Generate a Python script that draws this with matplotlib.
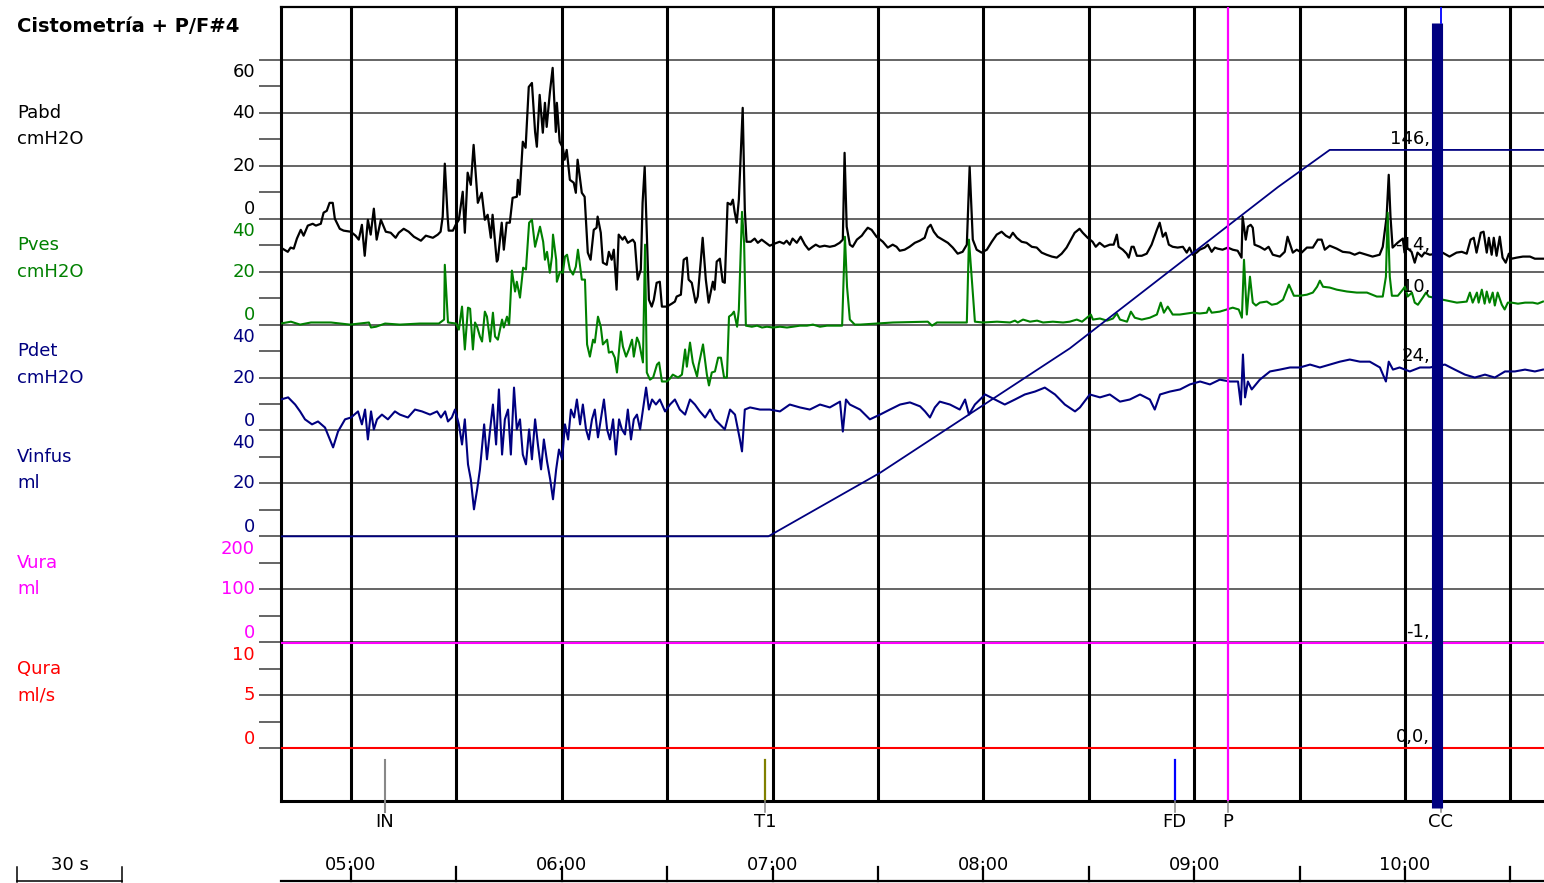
import numpy as np
import matplotlib.pyplot as plt
from matplotlib.transforms import Affine2D, blended_transform_factory, offset_copy

plt.rcParams['font.family'] = ['DejaVu Sans']

# ---- data (time in s, values in channel units) ----
pabd_t = [280.0, 282.0, 282.8, 283.7, 284.6, 285.7, 286.5, 287.7, 289.1, 290.0, 291.4, 292.2,
          293.1, 293.9, 294.8, 295.4, 296.8, 297.9, 299.9, 301.3, 302.2, 303.1, 303.9, 304.8,
          305.6, 306.5, 307.3, 308.5, 309.9, 311.3, 312.7, 313.6, 315.0, 316.4, 317.9, 319.9,
          321.3, 323.3, 324.7, 325.5, 326.1, 326.7, 327.5, 327.8, 329.0, 329.8, 330.7, 331.8,
          332.4, 333.2, 334.1, 334.9, 336.1, 337.2, 338.1, 338.9, 339.8, 340.3, 341.5, 341.8,
          342.9, 343.5, 344.3, 345.2, 346.0, 347.2, 347.5, 348.0, 348.9, 349.7, 350.6, 351.5,
          352.4, 352.9, 353.7, 354.6, 355.2, 355.7, 356.6, 357.4, 358.3, 358.6, 359.4, 360.3,
          360.8, 361.4, 362.3, 363.4, 364.0, 364.5, 365.7, 366.5, 367.4, 368.2, 369.1, 369.9,
          370.2, 371.1, 371.7, 372.8, 373.4, 374.2, 374.8, 375.6, 376.2, 377.3, 377.9, 378.8,
          380.2, 380.8, 381.6, 382.5, 383.0, 383.6, 384.2, 384.8, 385.6, 386.2, 387.0, 387.9,
          388.5, 389.9, 391.3, 392.2, 392.7, 393.9, 394.7, 395.6, 396.1, 397.0, 398.1, 398.7,
          399.6, 400.1, 401.0, 401.8, 403.0, 403.5, 404.1, 405.0, 405.8, 406.4, 407.2, 408.1,
          408.7, 409.2, 409.8, 410.4, 411.5, 412.1, 412.6, 413.8, 414.9, 415.8, 416.9, 418.1,
          419.2, 420.6, 422.0, 423.2, 424.0, 424.9, 425.7, 426.9, 428.0, 429.2, 430.3, 431.4,
          432.3, 433.4, 434.8, 436.3, 437.7, 439.1, 440.0, 440.5, 441.1, 442.0, 442.8, 444.0,
          445.4, 446.2, 447.1, 448.2, 449.6, 451.4, 452.8, 454.2, 455.3, 456.2, 457.6, 459.0,
          460.5, 461.9, 463.3, 464.2, 465.0, 465.9, 467.0, 468.4, 469.9, 471.3, 472.7, 474.1,
          475.3, 476.1, 477.0, 478.1, 479.5, 481.0, 482.4, 483.8, 485.2, 486.4, 487.5, 488.4,
          489.5, 490.9, 492.3, 493.8, 495.2, 496.6, 498.0, 499.5, 500.9, 502.3, 503.7, 504.6,
          506.0, 507.4, 508.3, 509.7, 511.1, 512.0, 513.1, 514.5, 516.0, 517.1, 518.0, 518.5,
          519.7, 520.8, 521.4, 522.2, 522.8, 523.7, 525.1, 526.5, 527.9, 529.4, 530.2, 531.1,
          531.9, 532.8, 533.9, 535.3, 536.8, 537.9, 538.7, 539.6, 540.7, 541.6, 543.0, 543.9,
          545.0, 545.9, 546.7, 548.1, 549.6, 551.0, 552.4, 553.5, 553.8, 554.7, 555.3, 556.1,
          556.7, 557.2, 558.7, 560.1, 561.2, 562.4, 564.4, 565.8, 566.6, 568.1, 569.2, 570.6,
          572.1, 573.8, 575.2, 576.3, 577.2, 578.6, 580.6, 582.3, 584.3, 585.7, 587.1, 589.1,
          590.8, 592.8, 593.7, 594.8, 595.4, 595.9, 596.5, 597.9, 599.4, 599.9, 600.5, 601.9,
          602.8, 603.6, 604.8, 605.6, 607.1, 610.7, 612.7, 614.7, 616.2, 617.6, 618.7, 619.6,
          620.4, 621.6, 622.4, 623.3, 623.9, 624.7, 625.3, 626.1, 627.0, 627.8, 628.7, 629.6,
          630.4, 631.8, 633.6, 635.6, 637.0, 639.3]
pabd_v = [-10.9, -12.5, -10.9, -11.3, -7.5, -4.2, -6.4, -2.6, -1.9, -2.6, -1.9, 2.3,
          3.0, 6.0, 6.0, 0.0, -3.8, -4.5, -4.9, -6.4, -7.9, -2.3, -14.0, -0.4,
          -6.0, 3.8, -7.9, -0.4, -4.9, -5.3, -7.2, -5.3, -3.8, -4.9, -6.8, -8.3,
          -6.4, -7.2, -6.0, -4.9, 0.8, 20.8, 0.8, -4.5, -4.5, -2.3, -0.4, 10.2,
          -5.3, 17.4, 12.8, 27.9, 6.0, 9.8, -0.4, 1.5, -7.2, 1.5, -16.2, -15.5,
          -1.5, -11.7, -1.5, -1.5, 7.9, 8.3, 14.7, 9.1, 29.1, 26.8, 49.8, 51.3,
          32.8, 27.2, 46.8, 32.5, 43.8, 34.7, 47.6, 57.0, 32.8, 43.8, 29.1, 26.8,
          22.3, 26.0, 14.7, 13.6, 9.8, 22.3, 9.8, 8.3, -12.8, -15.5, -4.2, -3.4,
          0.8, -5.3, -16.6, -17.4, -12.5, -15.5, -11.7, -26.8, -6.0, -7.9, -6.8, -9.1,
          -7.9, -9.1, -23.0, -19.2, 6.0, 19.6, -5.3, -30.6, -33.2, -30.6, -24.2, -23.8,
          -33.2, -33.2, -32.1, -31.3, -29.4, -28.7, -15.5, -14.7, -23.0, -24.2, -31.7, -29.4,
          -15.5, -7.2, -23.0, -31.7, -23.8, -26.8, -16.2, -15.1, -23.8, -24.2, 6.0, 5.3,
          7.2, 2.6, -1.5, 7.2, 41.9, 3.4, -8.7, -8.7, -7.5, -9.1, -7.9, -9.1,
          -10.2, -9.4, -8.7, -9.4, -8.3, -9.8, -7.5, -9.1, -6.8, -9.8, -11.7, -10.6,
          -9.8, -10.6, -10.2, -10.6, -10.2, -9.1, -7.9, 24.9, -3.0, -9.8, -10.6, -7.9,
          -6.4, -4.9, -3.4, -4.2, -6.8, -8.7, -10.9, -9.8, -10.6, -12.1, -11.7, -10.6,
          -9.1, -8.3, -7.2, -3.4, -2.3, -4.9, -6.8, -7.9, -9.1, -10.9, -13.2, -12.5,
          -9.8, 19.6, -7.9, -11.7, -12.8, -11.7, -8.7, -6.0, -4.9, -6.4, -7.2, -5.3,
          -7.2, -8.7, -9.1, -10.6, -10.9, -12.8, -13.6, -14.3, -14.7, -13.2, -10.9, -8.7,
          -5.3, -3.8, -5.3, -7.2, -8.7, -10.6, -9.1, -10.6, -9.8, -9.8, -6.0, -10.6,
          -11.7, -13.2, -14.7, -10.6, -10.6, -14.0, -14.0, -13.2, -9.8, -4.2, -1.5, -6.8,
          -5.3, -9.8, -10.6, -10.9, -10.6, -12.8, -10.9, -13.6, -12.8, -11.7, -10.9, -9.8,
          -12.5, -10.9, -11.3, -11.7, -10.9, -11.7, -12.1, -14.7, 0.8, -7.9, -3.0, -2.3,
          -3.4, -9.8, -10.6, -11.7, -10.6, -13.6, -14.3, -12.5, -6.8, -12.8, -11.7, -12.8,
          -10.9, -10.9, -7.9, -7.9, -11.7, -10.2, -11.3, -12.5, -12.8, -13.6, -12.8, -13.6,
          -14.3, -13.6, -10.6, 0.8, 16.6, 0.8, -10.9, -9.1, -7.5, -12.8, -10.9, -12.5,
          -16.6, -12.8, -14.3, -12.8, -13.6, -12.8, -14.3, -12.8, -12.5, -13.2, -7.9, -7.2,
          -12.8, -5.3, -4.9, -12.8, -7.2, -13.6, -7.2, -14.0, -6.8, -14.7, -16.6, -13.2,
          -15.1, -14.7, -14.3, -14.3, -15.1, -15.1]

pves_t = [280.0, 282.9, 285.5, 288.6, 294.3, 299.7, 305.1, 305.7, 307.1, 309.7, 313.9, 319.6,
          325.0, 326.5, 326.7, 327.6, 329.9, 330.7, 331.6, 332.4, 333.3, 333.9, 334.7, 335.3,
          335.9, 336.7, 337.3, 338.1, 338.7, 339.6, 340.4, 341.0, 341.8, 343.0, 343.5, 344.4,
          345.0, 345.2, 345.8, 346.7, 347.2, 348.1, 349.0, 349.8, 350.7, 351.5, 352.4, 352.9,
          353.8, 354.7, 355.2, 355.8, 356.6, 357.2, 357.5, 358.4, 358.6, 359.5, 360.3, 360.9,
          361.5, 362.3, 363.2, 364.0, 364.6, 365.7, 366.6, 367.2, 368.0, 368.9, 369.4, 370.3,
          371.1, 371.7, 372.9, 373.4, 374.3, 375.1, 375.7, 376.8, 377.4, 378.3, 379.1, 380.0,
          380.5, 381.4, 382.0, 383.1, 383.7, 384.2, 385.1, 386.0, 387.1, 387.7, 388.5, 389.9,
          390.8, 391.6, 393.1, 394.2, 395.1, 395.6, 396.5, 397.3, 398.5, 399.0, 400.2, 401.3,
          401.9, 402.7, 403.6, 404.5, 405.3, 406.2, 407.0, 407.6, 408.4, 409.0, 409.9, 410.4,
          411.3, 411.9, 412.4, 414.1, 415.6, 417.0, 418.4, 420.1, 422.1, 424.1, 425.8, 427.8,
          429.8, 431.5, 433.5, 435.5, 437.2, 439.8, 440.6, 441.2, 442.0, 443.4, 444.9, 454.3,
          464.2, 465.4, 466.8, 475.3, 475.9, 477.6, 479.9, 483.9, 487.6, 489.0, 489.8, 491.3,
          493.3, 495.3, 497.0, 499.8, 502.7, 504.6, 506.6, 508.1, 510.6, 511.2, 513.2, 515.2,
          516.9, 518.0, 518.9, 520.9, 522.0, 523.1, 525.1, 527.4, 529.4, 530.5, 531.4, 532.5,
          533.9, 535.9, 537.9, 539.6, 541.6, 543.6, 544.2, 545.0, 547.3, 549.3, 551.0, 552.7,
          553.6, 554.2, 555.0, 555.9, 556.7, 557.6, 558.7, 560.7, 562.1, 563.6, 565.3, 567.0,
          568.4, 570.1, 572.1, 573.8, 575.0, 575.8, 576.7, 578.6, 580.6, 583.5, 586.3, 589.2,
          592.0, 593.7, 594.6, 595.1, 595.7, 596.3, 598.0, 599.4, 600.0, 600.8, 602.0, 602.8,
          603.7, 605.1, 606.0, 606.8, 610.8, 614.8, 617.6, 618.5, 619.3, 620.5, 621.0, 621.9,
          622.7, 623.3, 624.1, 625.0, 625.6, 626.4, 627.6, 628.4, 629.3, 630.4, 632.2, 634.2,
          636.4, 637.8, 639.3]
pves_v = [0.4, 1.1, 0.0, 0.8, 0.8, 0.0, 0.8, -1.1, -0.8, 0.4, 0.0, 0.4,
          0.4, 1.9, 22.6, 0.8, 0.4, -1.9, 6.8, -9.4, 6.4, 6.0, -9.4, 0.8,
          -0.8, -4.5, -6.4, 4.9, 3.0, -6.4, 4.5, -4.5, -5.7, 1.9, -1.1, 3.0,
          0.0, 4.5, 20.4, 12.5, 16.2, 10.2, 21.5, 20.8, 38.5, 39.6, 29.4, 32.1,
          37.0, 31.3, 24.5, 27.5, 19.6, 25.7, 34.0, 24.5, 16.2, 20.0, 19.6, 25.7,
          26.4, 20.8, 18.9, 21.9, 28.3, 17.0, 17.0, -7.5, -12.1, -5.7, -6.8, 3.0,
          -0.8, -7.5, -5.7, -10.6, -10.2, -12.5, -18.1, -2.6, -8.3, -12.1, -9.4, -5.7,
          -12.1, -4.9, -6.8, -14.3, 30.2, -18.1, -20.8, -20.0, -15.1, -14.3, -21.5, -21.5,
          -20.4, -18.9, -20.0, -18.9, -9.4, -15.9, -6.8, -14.3, -19.6, -15.1, -7.5, -18.9,
          -23.0, -18.1, -17.7, -12.5, -12.5, -20.0, -20.0, 3.0, 3.8, 4.9, -0.8, 5.7,
          42.6, 30.9, -0.4, -0.8, -0.4, -1.1, -0.8, -1.1, -0.8, -1.1, -0.8, -0.4,
          -0.4, 0.0, -0.8, -0.4, -0.4, -0.4, 33.2, 14.3, 1.9, 0.0, 0.0, 0.8,
          1.1, -0.4, 0.8, 0.8, 32.1, 1.1, 0.8, 1.1, 0.8, 1.5, 0.8, 1.9,
          1.1, 1.5, 0.8, 1.1, 0.8, 1.1, 1.9, 1.1, 3.8, 1.9, 2.3, 1.5,
          2.3, 4.2, 1.9, 1.1, 4.9, 2.6, 1.9, 2.6, 3.8, 8.3, 4.5, 6.8,
          3.8, 3.8, 4.2, 4.5, 4.2, 4.5, 6.4, 4.5, 4.9, 5.7, 6.4, 5.7,
          2.6, 24.5, 3.8, 18.1, 8.3, 7.2, 8.3, 8.7, 7.5, 7.9, 9.4, 15.1,
          10.9, 10.9, 11.3, 12.1, 14.3, 16.6, 14.3, 14.0, 13.2, 12.5, 12.1, 12.1,
          10.6, 10.6, 18.1, 42.3, 18.1, 10.9, 10.9, 13.2, 14.3, 10.6, 12.1, 8.3,
          7.5, 10.2, 12.1, 10.6, 9.4, 8.3, 8.7, 12.1, 8.3, 12.1, 8.3, 13.2,
          7.9, 12.5, 8.3, 12.1, 7.2, 12.1, 7.5, 5.7, 8.3, 8.3, 7.9, 8.3,
          8.3, 7.9, 8.7]

pdet_t = [280.0, 282.1, 284.1, 285.5, 286.9, 288.9, 290.6, 292.6, 294.0, 294.9, 296.3, 298.3,
          300.0, 302.0, 303.1, 304.0, 304.8, 305.7, 306.5, 307.4, 308.8, 310.5, 312.5, 313.9,
          316.2, 318.2, 320.2, 322.5, 324.5, 325.6, 326.8, 327.6, 328.7, 329.6, 330.7, 331.6,
          332.4, 333.3, 334.1, 335.0, 335.9, 336.7, 337.9, 338.7, 339.6, 340.4, 341.3, 342.1,
          343.0, 343.8, 344.7, 345.5, 346.4, 347.2, 348.1, 348.9, 349.8, 350.7, 351.5, 352.4,
          353.2, 354.1, 354.9, 355.8, 356.7, 357.5, 358.4, 359.2, 360.1, 360.9, 361.8, 362.6,
          363.5, 364.3, 365.2, 366.0, 366.9, 367.7, 368.6, 369.4, 370.3, 371.1, 372.0, 372.9,
          373.7, 374.6, 375.4, 376.3, 377.1, 378.0, 378.8, 379.7, 380.5, 381.4, 382.3, 383.1,
          384.0, 384.8, 385.7, 386.8, 387.9, 389.4, 390.8, 392.2, 393.6, 395.1, 396.5, 397.9,
          399.3, 400.8, 402.2, 403.6, 405.0, 406.4, 407.9, 409.3, 410.7, 411.3, 412.1, 413.6,
          416.4, 419.2, 422.1, 424.9, 427.8, 430.6, 433.5, 436.3, 439.2, 440.0, 440.9, 442.0,
          444.9, 447.7, 450.6, 453.4, 456.3, 459.1, 462.0, 463.4, 464.8, 466.2, 467.6, 470.5,
          473.3, 474.8, 475.9, 477.6, 480.5, 483.3, 486.1, 489.0, 491.8, 494.7, 497.5, 500.4,
          503.2, 506.1, 507.5, 510.3, 513.2, 516.0, 518.9, 521.7, 524.6, 527.4, 528.8, 530.3,
          533.1, 536.0, 538.8, 541.7, 544.5, 547.3, 550.2, 552.5, 553.3, 553.9, 554.5, 555.3,
          556.4, 558.7, 561.6, 564.4, 567.3, 570.1, 573.0, 575.8, 578.6, 581.5, 584.3, 587.2,
          590.0, 592.9, 594.6, 595.4, 596.6, 598.5, 601.4, 604.3, 607.1, 611.4, 614.2, 617.1,
          619.9, 622.8, 625.6, 628.5, 631.3, 634.2, 637.0, 639.3]
pdet_v = [11.7, 12.5, 9.8, 7.2, 4.2, 2.3, 3.4, 1.1, -3.4, -6.4, -0.4, 4.2,
          4.9, 7.2, 2.3, 7.9, -3.4, 7.2, 0.4, 4.2, 6.0, 4.2, 7.2, 6.0,
          4.9, 7.9, 7.2, 6.0, 7.2, 4.9, 7.2, 3.4, 4.9, 7.9, 2.3, -5.3,
          4.2, -12.8, -18.5, -29.8, -22.3, -14.7, 2.3, -10.9, 0.4, 9.8, -5.3, 15.5,
          -9.1, 4.2, 7.9, -9.1, 16.2, 0.4, 4.2, -9.1, -12.8, 0.4, -10.9, 4.2,
          -5.3, -14.7, -3.4, -11.7, -18.5, -26.0, -14.7, -7.2, -10.9, 2.3, -3.4, 7.9,
          4.9, 11.7, 2.3, 9.8, 0.4, -3.4, 4.2, 7.9, -2.6, 4.2, 11.7, 0.4,
          -3.4, 4.2, -9.1, 4.2, 0.4, -1.5, 7.9, -3.4, 4.2, 6.0, 0.4, 7.9,
          16.2, 7.9, 11.7, 9.8, 11.7, 7.2, 9.8, 11.7, 7.9, 6.0, 11.7, 9.8,
          7.2, 4.9, 7.9, 4.2, 2.3, 0.4, 7.9, 6.0, -3.4, -7.9, 7.9, 8.7,
          7.9, 7.9, 7.2, 9.8, 8.7, 7.9, 9.8, 8.7, 10.9, -0.4, 11.7, 9.8,
          7.9, 4.2, 6.0, 7.9, 9.8, 10.6, 9.1, 7.2, 4.9, 8.7, 10.9, 9.8,
          7.9, 11.7, 6.0, 9.8, 13.6, 11.7, 9.8, 11.7, 13.6, 14.7, 16.2, 13.6,
          9.8, 7.2, 8.7, 13.6, 12.5, 13.6, 10.9, 11.7, 13.6, 11.7, 7.9, 13.6,
          14.7, 15.5, 17.4, 18.5, 17.4, 19.2, 18.5, 18.5, 9.8, 28.7, 12.5, 18.5,
          15.5, 19.2, 22.3, 23.0, 23.8, 23.8, 24.9, 23.8, 24.9, 26.0, 26.8, 26.0,
          26.0, 23.8, 18.5, 26.0, 23.0, 23.8, 22.3, 23.8, 23.8, 24.9, 23.0, 21.1,
          20.0, 21.1, 20.0, 22.3, 22.3, 23.0, 22.3, 23.0]

vinfus_t = [280.1, 418.8, 450.6, 504.6, 563.9, 578.6, 639.6]
vinfus_v = [0, 0, 24, 71, 132, 146, 146]

vura_t = [280.1, 639.6]
vura_v = [-1, -1]

qura_t = [280.1, 639.6]
qura_v = [0.0, 0.0]

event_names = ['IN', 'T1', 'FD', 'P', 'CC']
event_times = [309.7, 417.8, 534.5, 549.6, 610.2]

# cursor readout at CC: Pabd, Pves, Pdet, Vinfus, Vura, Qura
cursor_labels = ['-14,', '10,', '24,', '146,', '-1,', '0,0,']
cursor_vals = [-14, 10, 24, 146, -1, 0.0]

# ---- figure ----
W, H = 1544, 883
fig = plt.figure(figsize=(W / 100, H / 100), dpi=100)
ax = fig.add_axes([281 / W, 1 - 801 / H, 1263 / W, 794 / H])
ax.set_xlim(280.07, 639.6)
ax.set_ylim(-1, 14)

# channel: name, unit, colour, row of zero, units per row, tick values, row of name label
channels = [
    ('Pabd', 'cmH2O', 'black', 10, 20, [0, 20, 40, 60], 12),
    ('Pves', 'cmH2O', '#008000', 8, 20, [0, 20, 40], 9.5),
    ('Pdet', 'cmH2O', '#000080', 6, 20, [0, 20, 40], 7.5),
    ('Vinfus', 'ml', '#000080', 4, 20, [0, 20, 40], 5.5),
    ('Vura', 'ml', '#ff00ff', 2, 100, [0, 100, 200], 3.5),
    ('Qura', 'ml/s', '#ff0000', 0, 5, [0, 5, 10], 1.5),
]


def chan(z, s):
    return Affine2D().scale(1, 1 / s).translate(0, z) + ax.transData


# grid
for r in range(14):
    ax.axhline(r, color='#3a3a3a', lw=1.1, zorder=1)
for t in np.arange(300, 640, 30):
    ax.axvline(t, color='black', lw=2.2, zorder=2)

ax.set_xticks([])
ax.set_yticks(range(14))
ax.set_yticks(np.arange(0.5, 13, 1), minor=True)
ax.tick_params(axis='y', which='both', length=15.8, width=1.1, color='#3a3a3a',
               labelleft=False)
ax.spines['right'].set_visible(False)
ax.spines['left'].set_linewidth(2.2)
ax.spines['bottom'].set_linewidth(2.2)
ax.spines['top'].set_linewidth(1.6)

lbl = dict(fontsize=13)

# traces
series = [(pabd_t, pabd_v), (pves_t, pves_v), (pdet_t, pdet_v),
          (vinfus_t, vinfus_v), (vura_t, vura_v), (qura_t, qura_v)]
widths = [1.6, 1.5, 1.5, 1.3, 1.5, 1.5]
zorders = [4, 5, 5, 6, 3, 3]
row_tr = ax.get_yaxis_transform()
for (name, unit, col, z, s, ticks, nrow), (xs, ys), lw, zo in zip(channels, series, widths, zorders):
    tr = chan(z, s)
    ax.plot(xs, ys, color=col, lw=lw, zorder=zo, transform=tr)
    # tick labels
    lt = blended_transform_factory(ax.transAxes, tr)
    for i, v in enumerate(ticks):
        dy = 0
        if i == len(ticks) - 1:
            dy = -12.5
        elif i == 0:
            dy = 9.5
        ax.text(-0.0206, v, str(v), color=col, ha='right', va='center',
                transform=offset_copy(lt, fig=fig, y=dy, units='dots'), clip_on=False, **lbl)
    # channel names
    ax.text(-0.209, nrow, name, color=col, ha='left', va='center', transform=row_tr,
            clip_on=False, **lbl)
    ax.text(-0.209, nrow - 0.5, unit, color=col, ha='left', va='center', transform=row_tr,
            clip_on=False, **lbl)

# events
ev_cols = ['#888888', '#808000', '#0000ff', '#ff00ff', '#000080']
for name, t, c in zip(event_names, event_times, ev_cols):
    if name == 'IN':
        ax.plot([t, t], [-0.227, -1.21], color=c, lw=1.5, zorder=6, clip_on=False)
    elif name == 'P':
        ax.plot([t, t], [14, -1], color=c, lw=1.6, zorder=7)
        ax.plot([t, t], [-1, -1.21], color='#888888', lw=1.1, zorder=6, clip_on=False)
    elif name == 'CC':
        ax.plot([t - 1.0, t - 1.0], [13.7, -1.13], color=c, lw=8, zorder=9,
                solid_capstyle='butt', clip_on=False)
        ax.plot([t, t], [14, 13.7], color='#0000ff', lw=1.3, zorder=9)
        ax.plot([t, t], [-1.13, -1.21], color='#888888', lw=1.1, zorder=6, clip_on=False)
    else:
        ax.plot([t, t], [-0.227, -1], color=c, lw=1.6, zorder=6)
        ax.plot([t, t], [-1, -1.21], color='#888888', lw=1.1, zorder=6, clip_on=False)
    ax.text(t, -1.40, name, ha='center', va='center', clip_on=False, **lbl)

# cursor readouts
for (name, unit, col, z, s, ticks, nrow), lab, v in zip(channels, cursor_labels, cursor_vals):
    tr = offset_copy(chan(z, s), fig=fig, x=-2, y=11, units='dots')
    ax.text(event_times[-1] - 2.5, v, lab, ha='right', va='center',
            transform=tr, zorder=8, **lbl)

# time axis
ax.plot([280.07, 639.6], [-2.513, -2.513], color='black', lw=1.6, clip_on=False)
for t in np.arange(300, 640, 30):
    ax.plot([t, t], [-2.513, -2.25], color='black', lw=1.6, clip_on=False)
for t in np.arange(300, 640, 60):
    ax.text(t, -2.21, '%02d:00' % (t // 60), ha='center', va='center',
            clip_on=False, **lbl)

# 30 s scale bar
t0 = 280.07 - (281 - 17) / 3.5133
ax.plot([t0, t0 + 30], [-2.513, -2.513], color='black', lw=1.1, clip_on=False)
for t in (t0, t0 + 30):
    ax.plot([t, t], [-2.53, -2.25], color='black', lw=1.1, clip_on=False)
ax.text(t0 + 15, -2.21, '30 s', ha='center', va='center', clip_on=False, **lbl)

fig.text(17 / W, 1 - 27 / H, 'Cistometría + P/F#4', fontsize=14, fontweight='bold',
         ha='left', va='center')

fig.savefig('out.png', dpi=100)
